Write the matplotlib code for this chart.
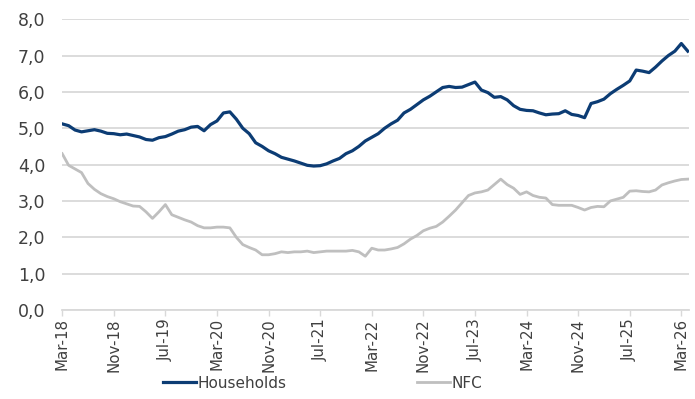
import numpy as np
import matplotlib
matplotlib.use('Agg')
import matplotlib.pyplot as plt

# ── Дані (щомісячно, з березня 2018) ─────────────────────────
households = [
    5.12, 5.07, 4.95, 4.90, 4.93, 4.96, 4.92, 4.86, 4.85, 4.82,
    4.84, 4.80, 4.76, 4.69, 4.67, 4.74, 4.77, 4.84, 4.92, 4.96,
    5.03, 5.05, 4.93, 5.10, 5.20, 5.42, 5.45, 5.25, 5.00, 4.85,
    4.60, 4.50, 4.38, 4.30, 4.20, 4.15, 4.10, 4.04, 3.98, 3.96,
    3.97, 4.02, 4.10, 4.17, 4.30, 4.38, 4.50, 4.65, 4.75, 4.85,
    5.00, 5.12, 5.22, 5.42, 5.52, 5.65, 5.78, 5.88, 6.00, 6.12,
    6.15, 6.12, 6.13, 6.20, 6.27, 6.05, 5.98, 5.85, 5.87, 5.78,
    5.62, 5.52, 5.49, 5.48, 5.42, 5.37, 5.39, 5.40, 5.48, 5.38,
    5.35, 5.29, 5.68, 5.73, 5.80, 5.95, 6.07, 6.18, 6.30, 6.60,
    6.57, 6.53, 6.68, 6.85, 7.00, 7.12, 7.33, 7.12,
]
nfc = [
    4.30, 3.98, 3.88, 3.78, 3.48, 3.32, 3.20, 3.12, 3.06, 2.98,
    2.92, 2.86, 2.85, 2.70, 2.52, 2.70, 2.90, 2.62, 2.55, 2.48,
    2.42, 2.32, 2.26, 2.26, 2.28, 2.28, 2.26, 2.00, 1.80, 1.72,
    1.65, 1.52, 1.52, 1.55, 1.60, 1.58, 1.60, 1.60, 1.62, 1.58,
    1.60, 1.62, 1.62, 1.62, 1.62, 1.64, 1.60, 1.48, 1.70, 1.65,
    1.65, 1.68, 1.72, 1.82, 1.95, 2.05, 2.18, 2.25, 2.30, 2.42,
    2.58, 2.75, 2.95, 3.15, 3.22, 3.25, 3.30, 3.45, 3.60, 3.45,
    3.35, 3.18, 3.25, 3.15, 3.10, 3.08, 2.90, 2.88, 2.88, 2.88,
    2.82, 2.75, 2.82, 2.85, 2.84, 3.00, 3.05, 3.10, 3.27, 3.28,
    3.26, 3.25, 3.30, 3.44, 3.50, 3.55, 3.59, 3.60,
]
tick_labels = ['Mar-18', 'Nov-18', 'Jul-19', 'Mar-20', 'Nov-20', 'Jul-21',
               'Mar-22', 'Nov-22', 'Jul-23', 'Mar-24', 'Nov-24', 'Jul-25',
               'Mar-26']
y_ticks = [0, 1, 2, 3, 4, 5, 6, 7, 8]

months = np.arange(len(households))
tick_pos = np.arange(len(tick_labels)) * 8

# ── Графік ───────────────────────────────────────────────────
fig = plt.figure(figsize=(6.95, 3.99), dpi=100)
ax = fig.add_axes([0.089, 0.223, 0.902, 0.729])

ax.plot(months, households, color='#0C3C74', linewidth=2.3,
        label='Households', zorder=3)
ax.plot(months, nfc, color='#BFBFBF', linewidth=2.0,
        label='NFC', zorder=2)

ax.set_ylim(0, 8)
ax.set_yticks(y_ticks)
ax.set_yticklabels([f'{v:.1f}'.replace('.', ',') for v in y_ticks],
                   fontsize=12.5, color='#404040')
ax.set_xlim(-0.05, 97.15)
ax.set_xticks(tick_pos)
ax.set_xticklabels(tick_labels, rotation=90, fontsize=10.8, color='#404040')

ax.grid(axis='y', color='#D9D9D9', linewidth=1.3)
ax.set_axisbelow(True)
for side in ['top', 'right', 'left']:
    ax.spines[side].set_visible(False)
ax.spines['bottom'].set_color('#D9D9D9')
ax.spines['bottom'].set_linewidth(1.3)
ax.tick_params(axis='y', length=0, pad=12)
ax.tick_params(axis='x', length=4, color='#D9D9D9', width=1.0, pad=2)

ax.legend(loc='center', bbox_to_anchor=(0.464, 0.04),
          bbox_transform=fig.transFigure, ncol=2, frameon=False,
          fontsize=11, handlelength=2.2, handletextpad=0.1,
          columnspacing=8.5, labelcolor='#404040')

plt.savefig('out.png', dpi=100)
